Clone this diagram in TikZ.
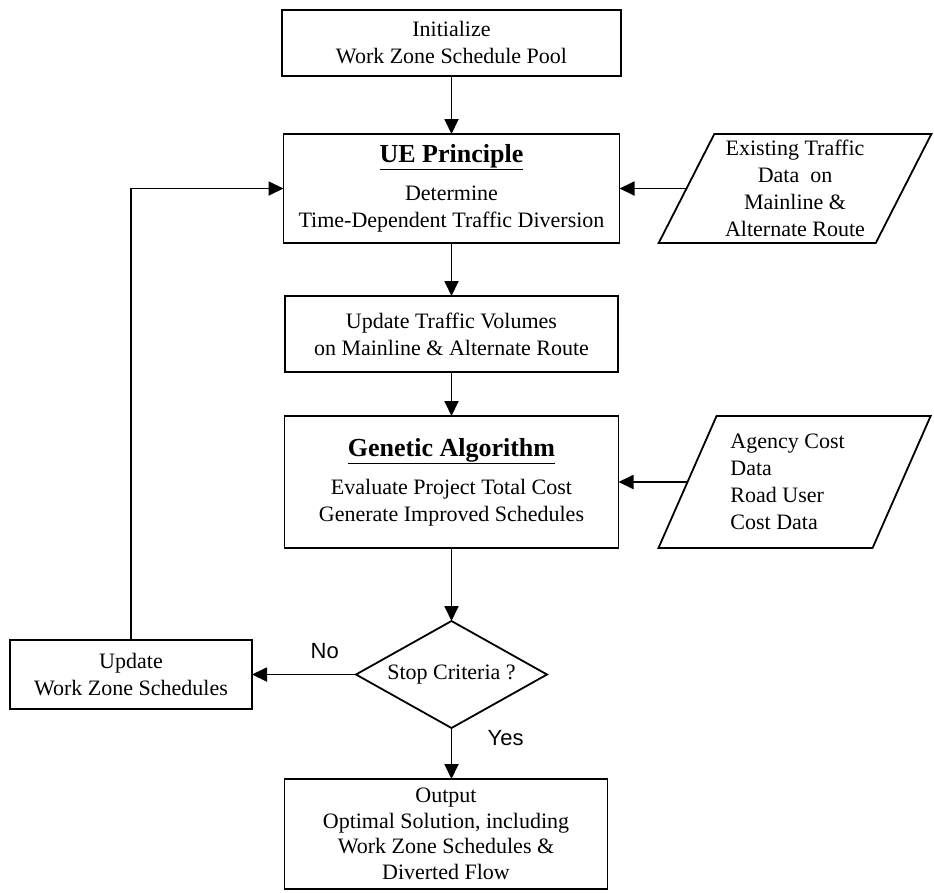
\documentclass[tikz,border=0pt]{standalone}
\usepackage{fontspec}
\setmainfont{Liberation Serif}
\newfontfamily\labelfont{Liberation Sans}
\usetikzlibrary{positioning,shapes.geometric,arrows.meta}

\newcommand{\boxtitle}[1]{{\fontsize{26}{30}\selectfont\bfseries\underline{#1}}}

\begin{document}
\begin{tikzpicture}[x=1pt, y=1pt,
    font=\fontsize{22}{27}\selectfont,
    box/.style={draw, line width=1.8pt, align=center, inner sep=0pt, outer sep=0pt},
    iobox/.style={draw, line width=1.8pt, trapezium, trapezium left angle=63.5,
      trapezium right angle=116.5, trapezium stretches=true, inner sep=0pt, outer sep=0pt},
    decision/.style={draw, line width=1.8pt, diamond, aspect=1.8, inner sep=0pt, outer sep=0pt},
    flow/.style={line width=1.8pt, -{Triangle[length=15pt, width=14pt]}},
    answer/.style={font=\labelfont\fontsize{22}{26}\selectfont}]
  \useasboundingbox (0,0) rectangle (934,-892);

  \node (init) [box, minimum width=339pt, minimum height=66pt] at (451.5,-43)
    {Initialize\\Work Zone Schedule Pool};
  \node (ue) [box, minimum width=336pt, minimum height=109pt, below=58pt of init]
    {\boxtitle{UE Principle}\\[11pt]Determine\\Time-Dependent Traffic Diversion};
  \node (vol) [box, minimum width=333pt, minimum height=76pt, below=53pt of ue]
    {Update Traffic Volumes\\on Mainline \& Alternate Route};
  \node (ga) [box, minimum width=334pt, minimum height=132pt, below=44pt of vol]
    {\boxtitle{Genetic Algorithm}\\[11pt]Evaluate Project Total Cost\\Generate Improved Schedules};
  \node (stop) [decision, minimum width=191pt, minimum height=107pt, below=73pt of ga]
    {Stop Criteria ?};
  \node (upd) [box, minimum width=242pt, minimum height=69pt, left=104pt of stop]
    {Update\\Work Zone Schedules};
  \node (out) [box, minimum width=323pt, minimum height=110pt, below=51pt of stop, xshift=-5.5pt,
    font=\fontsize{22}{25.5}\selectfont]
    {Output\\Optimal Solution, including\\Work Zone Schedules \&\\Diverted Flow};

  \node (traffic) [iobox, minimum width=273pt, minimum height=109pt, align=center, right=67pt of ue]
    {Existing Traffic\\Data~~on\\Mainline \&\\Alternate Route};
  \node (cost) [iobox, minimum width=273pt, minimum height=132pt, align=left, right=69pt of ga]
    {Agency Cost\hspace*{14pt}\\Data\\Road User\\Cost Data};

  % main flow
  \draw [flow] (init) -- (ue);
  \draw [flow] (ue) -- (vol);
  \draw [flow] (vol) -- (ga);
  \draw [flow] (ga.south -| stop.north) -- (stop);
  \draw [flow] (stop) -- node [answer, pos=0.3, above=12pt] {No} (upd);
  \draw [flow] (stop.south) -- node [answer, pos=0.2, right=32pt] {Yes} (stop.south |- out.north);
  \draw [flow] (upd.north) |- (ue.west);

  % input data
  \draw [flow] (traffic.west) -- (ue.east);
  \draw [flow] (cost.west) -- (ga.east);
\end{tikzpicture}
\end{document}
